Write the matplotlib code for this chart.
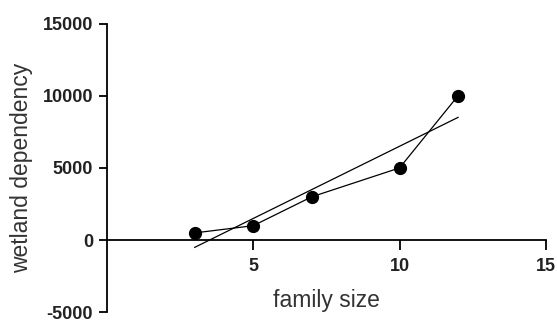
import numpy as np
from matplotlib import pyplot as plt

family_size = [3, 5, 7, 10, 12]
wetland_dependency = [500, 1000, 3000, 5000, 10000]
x_ticks = [5, 10, 15]
y_ticks = [-5000, 0, 5000, 10000, 15000]

plt.rcParams['font.family'] = ['Liberation Sans', 'DejaVu Sans']
plt.rcParams['axes.unicode_minus'] = False

fig = plt.figure(figsize=(5.57, 3.22), dpi=100)
ax = fig.add_axes([0.192, 0.03, 0.788, 0.897])

# data connected by a line
ax.plot(family_size, wetland_dependency, color='black', linewidth=0.9,
        marker='o', markersize=8.5, zorder=3)

# linear fit over the data range
slope, intercept = np.polyfit(family_size, wetland_dependency, 1)
fx = np.array([min(family_size), max(family_size)])
ax.plot(fx, slope * fx + intercept, color='black', linewidth=0.9, zorder=2)

ax.set_xlim(0, 15)
ax.set_ylim(-5000, 15000)
ax.set_xticks(x_ticks)
ax.set_yticks(y_ticks)

ax.spines['top'].set_visible(False)
ax.spines['right'].set_visible(False)
ax.spines['bottom'].set_position(('data', 0))
ax.spines['bottom'].set_linewidth(1.3)
ax.spines['left'].set_linewidth(1.3)

ax.tick_params(axis='both', direction='out', width=1.3, labelsize=13)
ax.tick_params(axis='x', length=7, pad=6)
ax.tick_params(axis='y', length=6, pad=4)
for lab in ax.get_xticklabels() + ax.get_yticklabels():
    lab.set_fontweight('bold')
    lab.set_color('#222222')

ax.set_ylabel('wetland dependency', fontsize=16.5, color='#333333', labelpad=7)
ax.text(7.5, -4150, 'family size', fontsize=16.5, color='#333333', ha='center', va='center')

plt.savefig('out.png', dpi=100)
